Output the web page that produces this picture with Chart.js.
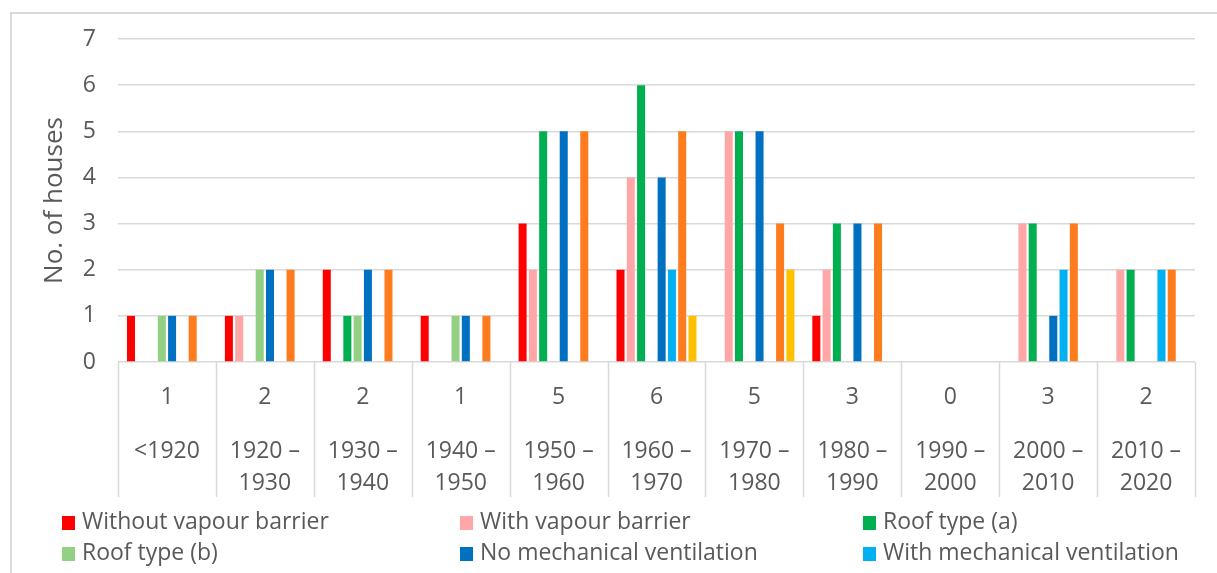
<!DOCTYPE html>
<html>
<head>
<meta charset="utf-8">
<script src="https://cdn.jsdelivr.net/npm/chart.js@4"></script>
<style>
  html, body { margin: 0; padding: 0; background: #fff; overflow: hidden; }
  #wrap { position: relative; width: 1217px; height: 573px; }
  #frame { position: absolute; left: 10px; top: 12px; width: 1300px; height: 700px; border: 2px solid #d9d9d9; }
  #chart { position: absolute; left: 0; top: 0; }
  #legend { position: absolute; left: 0; top: 505px; width: 1217px; font-family: "Open Sans", sans-serif; font-size: 23px; color: #595959; }
  .item { position: absolute; white-space: nowrap; line-height: 31px; }
  .box { display: inline-block; width: 13px; height: 14px; margin-right: 7px; vertical-align: -1px; }
</style>
</head>
<body>
<div id="wrap">
  <div id="frame"></div>
  <canvas id="chart" width="1217" height="573"></canvas>
  <div id="legend"></div>
</div>
<script>
const periods = ["<1920", ["1920 –", "1930"], ["1930 –", "1940"], ["1940 –", "1950"], ["1950 –", "1960"],
    ["1960 –", "1970"], ["1970 –", "1980"], ["1980 –", "1990"], ["1990 –", "2000"], ["2000 –", "2010"], ["2010 –", "2020"]];
const totals = [1, 2, 2, 1, 5, 6, 5, 3, 0, 3, 2];

const seriesNames = ["Without vapour barrier", "With vapour barrier", "Roof type (a)", "Roof type (b)",
    "No mechanical ventilation", "With mechanical ventilation", "Series 7", "Series 8"];
const seriesColors = ["#FF0000", "#FFA7A7", "#00B050", "#92D083", "#0070C0", "#00B0F0", "#FF7C1E", "#FFC000"];

const withoutVapour = [1, 1, 2, 1, 3, 2, 0, 1, 0, 0, 0];
const withVapour    = [0, 1, 0, 0, 2, 4, 5, 2, 0, 3, 2];
const roofA         = [0, 0, 1, 0, 5, 6, 5, 3, 0, 3, 2];
const roofB         = [1, 2, 1, 1, 0, 0, 0, 0, 0, 0, 0];
const noMechVent    = [1, 2, 2, 1, 5, 4, 5, 3, 0, 1, 0];
const withMechVent  = [0, 0, 0, 0, 0, 2, 0, 0, 0, 2, 2];
const series7       = [1, 2, 2, 1, 5, 5, 3, 3, 0, 3, 2];
const series8       = [0, 0, 0, 0, 0, 1, 2, 0, 0, 0, 0];
const seriesValues = [withoutVapour, withVapour, roofA, roofB, noMechVent, withMechVent, series7, series8];

const yTicks = [0, 1, 2, 3, 4, 5, 6, 7];
const legendShown = 6;

const textColor = "#595959";
const gridColor = "#d9d9d9";
const font = "'Open Sans', sans-serif";

// vertical separators of the table under the bars
const tableLines = {
    id: "tableLines",
    afterDraw(chart) {
        const { ctx, chartArea, scales } = chart;
        const x = scales.x;
        const w = (x.right - x.left) / periods.length;
        const bottom = scales.years.bottom;
        ctx.save();
        ctx.strokeStyle = gridColor;
        ctx.lineWidth = 1.5;
        for (let i = 0; i <= periods.length; i++) {
            const px = Math.round(x.left + i * w) + 0.5;
            ctx.beginPath();
            ctx.moveTo(px, chartArea.bottom);
            ctx.lineTo(px, bottom);
            ctx.stroke();
        }
        ctx.restore();
    }
};

const chart = new Chart(document.getElementById("chart"), {
    type: "bar",
    data: {
        labels: periods,
        datasets: seriesNames.map((name, i) => ({
            label: name,
            data: seriesValues[i],
            backgroundColor: seriesColors[i],
            borderWidth: 0,
            barPercentage: 0.78,
            categoryPercentage: 0.84
        }))
    },
    options: {
        responsive: false,
        animation: false,
        layout: { padding: { left: 30, right: 22, top: 39, bottom: 76 } },
        plugins: {
            legend: { display: false },
            tooltip: { enabled: false }
        },
        scales: {
            x: {
                type: "category",
                position: "bottom",
                grid: { display: false },
                border: { display: false },
                ticks: {
                    color: textColor,
                    font: { family: font, size: 23 },
                    padding: 14,
                    maxRotation: 0,
                    callback: (v, i) => String(totals[i])
                },
                afterFit: s => { s.height = 60; }
            },
            years: {
                type: "category",
                position: "bottom",
                labels: periods,
                grid: { display: false },
                border: { display: false },
                ticks: {
                    color: textColor,
                    font: { family: font, size: 23, lineHeight: 1.39 },
                    padding: 5,
                    maxRotation: 0,
                    autoSkip: false
                },
                afterFit: s => { s.height = 75; }
            },
            y: {
                min: 0,
                max: 7,
                afterBuildTicks: s => { s.ticks = yTicks.map(v => ({ value: v })); },
                grid: { color: gridColor, lineWidth: 1.5, drawTicks: false },
                border: { display: false },
                ticks: {
                    color: textColor,
                    font: { family: font, size: 23 },
                    padding: 22
                },
                title: {
                    display: true,
                    text: "No. of houses",
                    color: textColor,
                    font: { family: font, size: 26 },
                    padding: { top: 9, bottom: 0 }
                },
                afterFit: s => { s.width = 88; }
            }
        }
    },
    plugins: [tableLines]
});

// legend in three columns like the original
const legendCols = [62, 460, 863];
const legend = document.getElementById("legend");
chart.data.datasets.slice(0, legendShown).forEach((ds, i) => {
    const item = document.createElement("div");
    item.className = "item";
    item.style.left = legendCols[i % 3] + "px";
    item.style.top = (Math.floor(i / 3) * 31) + "px";
    item.innerHTML = '<span class="box" style="background:' + ds.backgroundColor + '"></span>' + ds.label;
    legend.appendChild(item);
});
</script>
</body>
</html>
